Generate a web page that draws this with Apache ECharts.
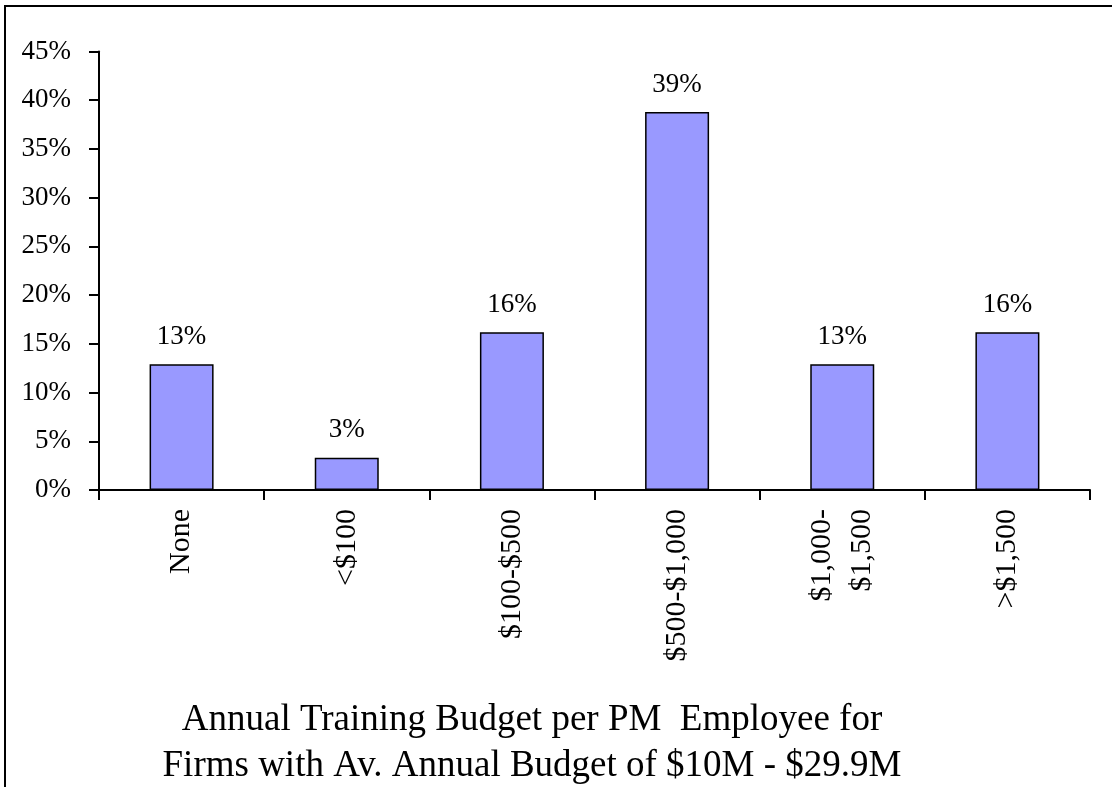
<!DOCTYPE html>
<html>
<head>
<meta charset="utf-8">
<script src="https://cdn.jsdelivr.net/npm/echarts@6/dist/echarts.min.js"></script>
<style>
  html, body { margin: 0; padding: 0; background: #fff; }
  #chart { width: 1112px; height: 787px; }
</style>
</head>
<body>
<div id="chart"></div>
<script>
// Categories (budget brackets)
const categories = ['None', '<$100', '$100-$500', '$500-$1,000', '$1,000-\n$1,500', '>$1,500'];
// Share of firms, in percent
const shares = [12.9, 3.3, 16.2, 38.8, 12.9, 16.2];
// Y axis ticks
const yMin = 0;
const yMax = 45;
const yStep = 5;

const serif = '"Liberation Serif", "Times New Roman", serif';

const chart = echarts.init(document.getElementById('chart'), null, { renderer: 'canvas' });

const option = {
  animation: false,
  backgroundColor: '#fff',
  title: {
    text: 'Annual Training Budget per PM  Employee for\nFirms with Av. Annual Budget of $10M - $29.9M',
    left: 527,
    top: 692,
    textAlign: 'center',
    textStyle: {
      fontFamily: serif,
      fontWeight: 'normal',
      fontSize: 37,
      lineHeight: 46,
      color: '#000'
    }
  },
  graphic: [
    {
      // outer frame
      type: 'rect',
      shape: { x: 5, y: 6, width: 1300, height: 1000 },
      style: { fill: 'none', stroke: '#000', lineWidth: 2 },
      silent: true
    }
  ],
  grid: {
    left: 99,
    right: 22,
    top: 51.5,
    bottom: 297,
    containLabel: false
  },
  xAxis: {
    type: 'category',
    data: categories,
    axisLine: { lineStyle: { color: '#000', width: 2 } },
    axisTick: { show: true, length: 10, lineStyle: { color: '#000', width: 2 } },
    axisLabel: {
      rotate: 90,
      margin: 19,
      interval: 0,
      color: '#000',
      fontFamily: serif,
      fontSize: 30,
      lineHeight: 40
    }
  },
  yAxis: {
    type: 'value',
    min: yMin,
    max: yMax,
    interval: yStep,
    splitLine: { show: false },
    axisLine: { show: true, lineStyle: { color: '#000', width: 2 } },
    axisTick: { show: true, length: 10, lineStyle: { color: '#000', width: 2 } },
    axisLabel: {
      margin: 28,
      color: '#000',
      fontFamily: serif,
      fontSize: 27,
      formatter: function (v) { return v + '%'; }
    }
  },
  series: [
    {
      type: 'bar',
      data: shares,
      barWidth: 64,
      itemStyle: { color: '#9999FF', borderColor: '#000', borderWidth: 1.5 },
      label: {
        show: true,
        position: 'top',
        distance: 14,
        color: '#000',
        fontFamily: serif,
        fontSize: 27,
        formatter: function (p) { return Math.round(p.value) + '%'; }
      }
    }
  ]
};

chart.setOption(option);
window.addEventListener('resize', chart.resize);
</script>
</body>
</html>
